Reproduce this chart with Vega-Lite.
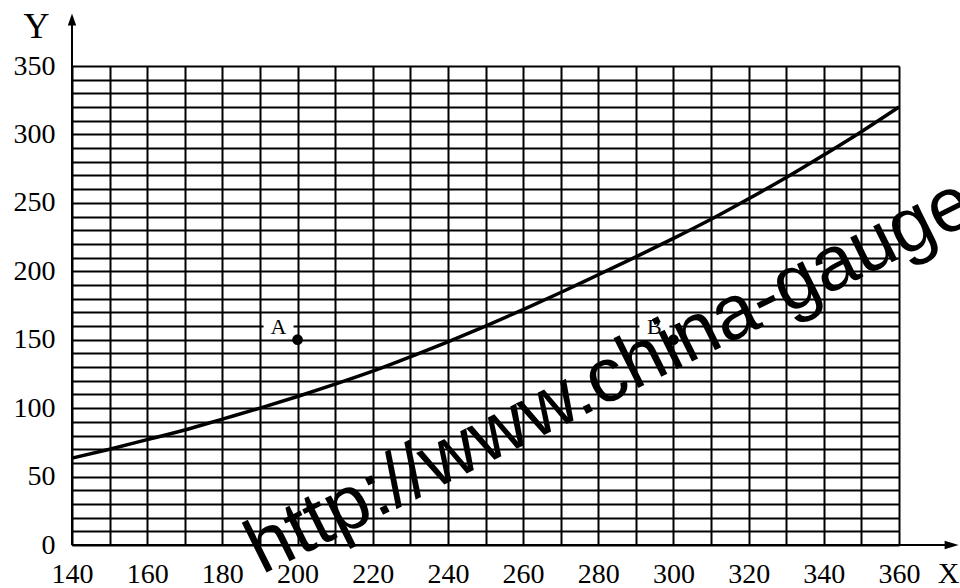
{
  "$schema": "https://vega.github.io/schema/vega-lite/v6.json",
  "width": 827,
  "height": 479,
  "autosize": {"type": "none"},
  "padding": {"left": 72, "top": 66, "right": 61, "bottom": 43},
  "background": "white",
  "config": {
    "view": {"stroke": null},
    "font": "Liberation Serif"
  },
  "resolve": {"axis": {"x": "independent", "y": "independent"}},
  "datasets": {
    "curve": [
      {"x": 140, "y": 63.5}, {"x": 150, "y": 70}, {"x": 160, "y": 77}, {"x": 170, "y": 84},
      {"x": 180, "y": 92}, {"x": 190, "y": 100}, {"x": 200, "y": 108.5}, {"x": 210, "y": 117.5},
      {"x": 220, "y": 127}, {"x": 230, "y": 137.5}, {"x": 240, "y": 148.5}, {"x": 250, "y": 160},
      {"x": 260, "y": 172}, {"x": 270, "y": 184.5}, {"x": 280, "y": 197.5}, {"x": 290, "y": 210.5},
      {"x": 300, "y": 224}, {"x": 310, "y": 238}, {"x": 320, "y": 253}, {"x": 330, "y": 268.5},
      {"x": 340, "y": 285}, {"x": 350, "y": 302}, {"x": 360, "y": 320}
    ],
    "points": [
      {"label": "A", "x": 200, "y": 150},
      {"label": "B", "x": 300, "y": 150}
    ],
    "one": [{"k": 1}]
  },
  "layer": [
    {
      "data": {"name": "curve"},
      "mark": {"type": "line", "color": "black", "strokeWidth": 3.5, "interpolate": "monotone"},
      "encoding": {
        "x": {
          "field": "x", "type": "quantitative", "title": "X",
          "scale": {"domain": [140, 360], "nice": false, "zero": false},
          "axis": {
            "values": [140,150,160,170,180,190,200,210,220,230,240,250,260,270,280,290,300,310,320,330,340,350,360],
            "labelExpr": "datum.value % 20 == 0 ? datum.label : ''",
            "grid": true, "gridColor": "black", "gridWidth": 2, "gridOpacity": 1,
            "ticks": false, "domain": false,
            "labelFont": "Liberation Serif", "labelFontSize": 28, "labelColor": "black",
            "labelBaseline": "alphabetic", "labelPadding": 37, "labelFlush": false, "labelOverlap": false,
            "titleFont": "Liberation Serif", "titleFontSize": 30, "titleFontWeight": "normal",
            "titleColor": "black", "titleX": 876, "titleY": 37, "titleAlign": "center", "titleBaseline": "alphabetic"
          }
        },
        "y": {
          "field": "y", "type": "quantitative", "title": "Y",
          "scale": {"domain": [0, 350], "nice": false, "zero": false},
          "axis": {
            "values": [0,10,20,30,40,50,60,70,80,90,100,110,120,130,140,150,160,170,180,190,200,210,220,230,240,250,260,270,280,290,300,310,320,330,340,350],
            "labelExpr": "datum.value % 50 == 0 ? datum.label : ''",
            "grid": true, "gridColor": "black", "gridWidth": 2, "gridOpacity": 1,
            "ticks": false, "domain": false,
            "labelFont": "Liberation Serif", "labelFontSize": 28, "labelColor": "black",
            "labelPadding": 17, "labelFlush": false, "labelOverlap": false,
            "titleFont": "Liberation Serif", "titleFontSize": 36, "titleFontWeight": "normal",
            "titleColor": "black", "titleX": -36, "titleY": -29, "titleAngle": 0, "titleAlign": "center", "titleBaseline": "alphabetic"
          }
        }
      }
    },
    {
      "data": {"name": "one"},
      "mark": {"type": "rule", "color": "black", "strokeWidth": 2},
      "encoding": {
        "x": {"datum": 140, "type": "quantitative", "axis": null},
        "y": {"datum": 0, "type": "quantitative", "axis": null},
        "y2": {"datum": 384}
      }
    },
    {
      "data": {"name": "one"},
      "mark": {"type": "rule", "color": "black", "strokeWidth": 2},
      "encoding": {
        "x": {"datum": 140, "type": "quantitative", "axis": null},
        "x2": {"datum": 374},
        "y": {"datum": 0, "type": "quantitative", "axis": null}
      }
    },
    {
      "data": {"name": "one"},
      "mark": {"type": "point", "filled": true, "color": "black", "opacity": 1, "shape": "M0,-1L0.7,1L-0.7,1Z", "size": 144, "strokeWidth": 0},
      "encoding": {
        "x": {"datum": 140, "type": "quantitative", "axis": null},
        "y": {"datum": 384, "type": "quantitative", "axis": null}
      }
    },
    {
      "data": {"name": "one"},
      "mark": {"type": "point", "filled": true, "color": "black", "opacity": 1, "shape": "M-1,-0.6L1,0L-1,0.6Z", "size": 196, "strokeWidth": 0},
      "encoding": {
        "x": {"datum": 374, "type": "quantitative", "axis": null},
        "y": {"datum": 0, "type": "quantitative", "axis": null}
      }
    },
    {
      "data": {"name": "points"},
      "mark": {"type": "point", "filled": true, "color": "white", "opacity": 1, "shape": "M-1,-0.5L1,-0.5L1,0.5L-1,0.5Z", "size": 900, "strokeWidth": 0, "xOffset": -19, "yOffset": -13},
      "encoding": {
        "x": {"field": "x", "type": "quantitative", "axis": null},
        "y": {"field": "y", "type": "quantitative", "axis": null}
      }
    },
    {
      "data": {"name": "points"},
      "mark": {"type": "point", "filled": true, "color": "black", "opacity": 1, "shape": "circle", "size": 115, "strokeWidth": 0},
      "encoding": {
        "x": {"field": "x", "type": "quantitative", "axis": null},
        "y": {"field": "y", "type": "quantitative", "axis": null}
      }
    },
    {
      "data": {"name": "points"},
      "mark": {"type": "text", "font": "Liberation Serif", "fontSize": 22, "color": "black", "align": "center", "baseline": "middle", "dx": -19, "dy": -13},
      "encoding": {
        "x": {"field": "x", "type": "quantitative", "axis": null},
        "y": {"field": "y", "type": "quantitative", "axis": null},
        "text": {"field": "label"}
      }
    },
    {
      "data": {"name": "one"},
      "mark": {"type": "text", "font": "Liberation Sans", "fontSize": 77, "color": "black", "align": "left", "baseline": "alphabetic", "angle": -26.4},
      "encoding": {
        "x": {"datum": 190.5, "type": "quantitative", "axis": null},
        "y": {"datum": -22, "type": "quantitative", "axis": null},
        "text": {"value": "http://www.china-gauge"}
      }
    }
  ]
}
